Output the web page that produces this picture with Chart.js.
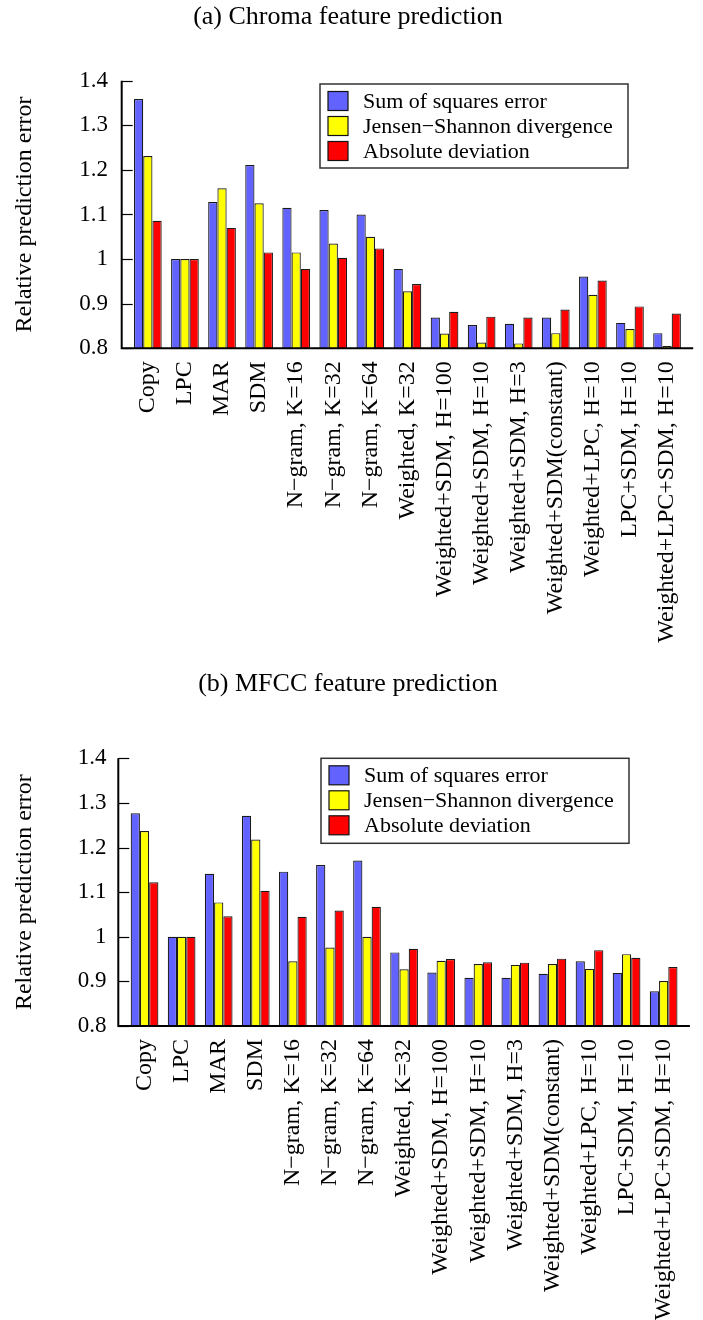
<!DOCTYPE html>
<html>
<head>
<meta charset="utf-8">
<title>Relative prediction error</title>
<script src="https://cdn.jsdelivr.net/npm/chart.js@4.4.1/dist/chart.umd.min.js"></script>
<style>
  html, body { margin: 0; padding: 0; background: #fff; }
  .panel { position: relative; width: 703px; height: 660px; }
</style>
</head>
<body>
<div class="panel"><canvas id="chroma"></canvas></div>
<div class="panel"><canvas id="mfcc"></canvas></div>
<script>
// ── data ─────────────────────────────────────────────────────────
const categories = [
    'Copy', 'LPC', 'MAR', 'SDM',
    'N\u2212gram, K=16', 'N\u2212gram, K=32', 'N\u2212gram, K=64',
    'Weighted, K=32', 'Weighted+SDM, H=100', 'Weighted+SDM, H=10',
    'Weighted+SDM, H=3', 'Weighted+SDM(constant)', 'Weighted+LPC, H=10',
    'LPC+SDM, H=10', 'Weighted+LPC+SDM, H=10',
];
const seriesNames = ['Sum of squares error', 'Jensen\u2212Shannon divergence', 'Absolute deviation'];
const yTicks      = [0.8, 0.9, 1.0, 1.1, 1.2, 1.3, 1.4];

// (a) chroma
const chromaSse = [1.359, 1.000, 1.128, 1.211, 1.115, 1.110, 1.100, 0.978, 0.869, 0.852, 0.855, 0.869, 0.961, 0.857, 0.834];
const chromaJsd = [1.231, 1.000, 1.159, 1.125, 1.015, 1.035, 1.050, 0.928, 0.833, 0.813, 0.811, 0.834, 0.920, 0.843, 0.805];
const chromaAbs = [1.086, 1.000, 1.070, 1.015, 0.978, 1.003, 1.024, 0.944, 0.882, 0.871, 0.869, 0.887, 0.952, 0.894, 0.878];

// (b) mfcc
const mfccSse = [1.277, 1.000, 1.141, 1.271, 1.146, 1.161, 1.171, 0.965, 0.920, 0.908, 0.908, 0.917, 0.945, 0.919, 0.878];
const mfccJsd = [1.237, 1.000, 1.077, 1.218, 0.945, 0.976, 1.000, 0.927, 0.946, 0.939, 0.937, 0.939, 0.928, 0.961, 0.901];
const mfccAbs = [1.122, 1.000, 1.046, 1.103, 1.045, 1.059, 1.067, 0.973, 0.950, 0.943, 0.942, 0.951, 0.970, 0.953, 0.932];

// ── style ────────────────────────────────────────────────────────
const COLORS = ['#6262ff', '#ffff00', '#ff0000'];
const FONT   = 'Liberation Serif, Times New Roman, serif';

// gnuplot-like frame: left/bottom axes, inward ticks, boxed legend
const gnuplotFrame = {
    id: 'gnuplotFrame',
    afterDraw(chart, args, opts) {
        const { ctx, chartArea: a, scales: { y } } = chart;
        const left  = a.left  - opts.inset;
        const right = a.right + opts.inset;
        ctx.save();
        ctx.strokeStyle = '#000';

        // y ticks (inward)
        ctx.lineWidth = 1.2;
        y.ticks.forEach(t => {
            const py = Math.round(y.getPixelForValue(t.value)) + 0.5;
            ctx.beginPath();
            ctx.moveTo(left, py);
            ctx.lineTo(left + 11, py);
            ctx.stroke();
        });

        // axes
        ctx.lineWidth = 2;
        ctx.beginPath();
        ctx.moveTo(left, a.top);
        ctx.lineTo(left, a.bottom);
        ctx.lineTo(right, a.bottom);
        ctx.stroke();

        // legend
        const lg = opts.legend;
        ctx.fillStyle = '#fff';
        ctx.fillRect(lg.x, lg.y, lg.w, lg.h);
        ctx.lineWidth = 1.5;
        ctx.strokeStyle = '#333';
        ctx.strokeRect(lg.x, lg.y, lg.w, lg.h);
        ctx.font = '22px ' + FONT;
        ctx.textBaseline = 'middle';
        ctx.textAlign = 'left';
        chart.data.datasets.forEach((ds, i) => {
            const cy = lg.y + 17 + i * 25;
            ctx.fillStyle = ds.backgroundColor;
            ctx.fillRect(lg.x + 8, cy - 9.5, 20, 19);
            ctx.lineWidth = 1.2;
            ctx.strokeStyle = '#111';
            ctx.strokeRect(lg.x + 8, cy - 9.5, 20, 19);
            ctx.fillStyle = '#000';
            ctx.fillText(ds.label, lg.x + 43, cy + 1);
        });
        ctx.restore();
    },
};

function buildChart(canvasId, title, series, L) {
    const H = 660;
    const padRight = 703 - L.right;
    const padLeft  = padRight - 7;      // keeps the title centred near x=348
    return new Chart(document.getElementById(canvasId), {
        type: 'bar',
        data: {
            labels: categories,
            datasets: series.map((values, i) => ({
                label: seriesNames[i],
                data: values,
                backgroundColor: COLORS[i],
                borderColor: '#1a1a1a',
                borderWidth: 1.2,
                borderSkipped: false,
                categoryPercentage: 0.747,
                barPercentage: 1.0,
            })),
        },
        options: {
            responsive: true,
            maintainAspectRatio: false,
            animation: false,
            events: [],
            layout: { padding: { left: padLeft, right: padRight, top: 0, bottom: 0 } },
            plugins: {
                legend: { display: false },
                tooltip: { enabled: false },
                title: {
                    display: true,
                    text: title,
                    color: '#000',
                    font: { family: FONT, size: 26, weight: 'normal' },
                    padding: { top: L.titleY - 15.6, bottom: L.top - L.titleY - 15.6 },
                },
                gnuplotFrame: {
                    inset: L.inset,
                    legend: L.legend,
                },
            },
            scales: {
                x: {
                    grid: { display: false },
                    border: { display: false },
                    ticks: {
                        autoSkip: false,
                        maxRotation: 90,
                        minRotation: 90,
                        padding: 5,
                        color: '#000',
                        font: { family: FONT, size: 24 },
                    },
                    afterFit(scale) { scale.height = H - L.bottom; },
                },
                y: {
                    min: 0.8,
                    max: 1.4,
                    grid: { display: false, drawTicks: false },
                    border: { display: false },
                    afterBuildTicks(scale) { scale.ticks = yTicks.map(v => ({ value: v })); },
                    ticks: {
                        padding: L.left - L.tickEnd,
                        color: '#000',
                        font: { family: FONT, size: 23 },
                        callback: v => String(Number(v.toFixed(1))),
                    },
                    title: {
                        display: true,
                        text: 'Relative prediction error',
                        color: '#000',
                        font: { family: FONT, size: 24 },
                        padding: { top: 10 - padLeft, bottom: 0 },
                    },
                    afterFit(scale) { scale.width = L.left - padLeft; },
                },
            },
        },
        plugins: [gnuplotFrame],
    });
}

buildChart('chroma', '(a) Chroma feature prediction', [chromaSse, chromaJsd, chromaAbs], {
    titleY: 17, top: 80.7, bottom: 348.3, left: 129.3, right: 685.6, inset: 7.6, tickEnd: 108,
    legend: { x: 320, y: 84, w: 308, h: 84 },
});

buildChart('mfcc', '(b) MFCC feature prediction', [mfccSse, mfccJsd, mfccAbs], {
    titleY: 24, top: 98.3, bottom: 366, left: 126, right: 682.2, inset: 7.7, tickEnd: 106.5,
    legend: { x: 321, y: 98.3, w: 308, h: 85 },
});
</script>
</body>
</html>
